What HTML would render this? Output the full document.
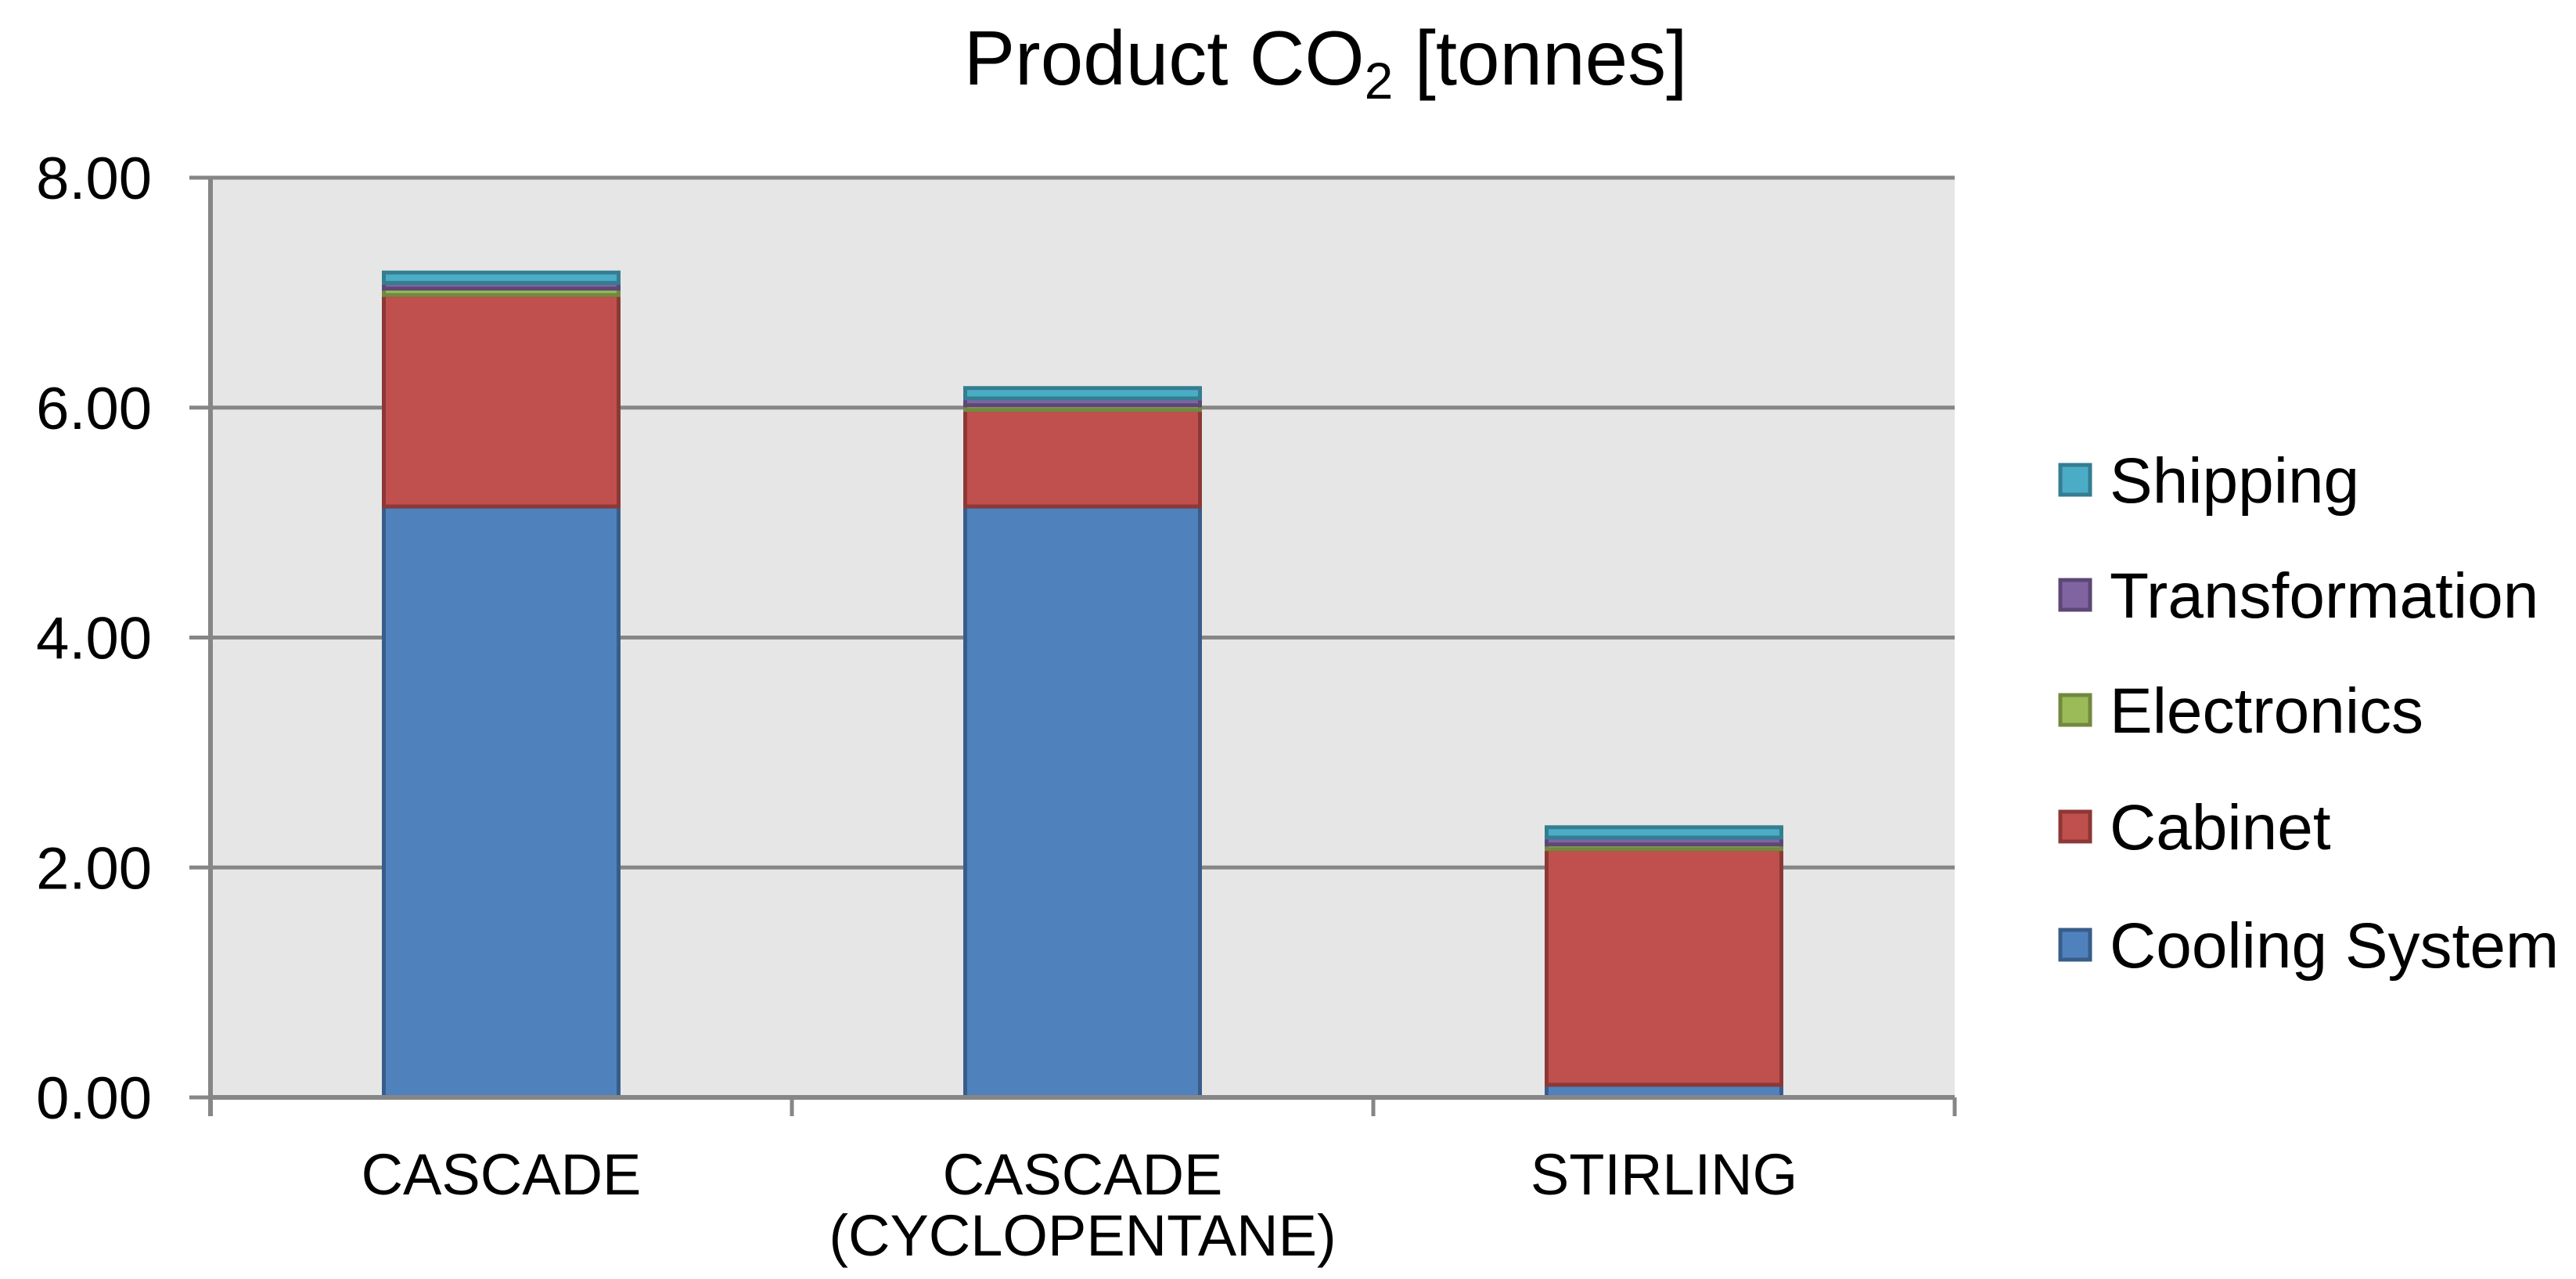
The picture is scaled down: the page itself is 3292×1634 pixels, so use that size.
<!DOCTYPE html>
<html><head><meta charset="utf-8"><style>
html,body{margin:0;padding:0;background:#fff;width:3292px;height:1634px;overflow:hidden}
svg text{font-family:"Liberation Sans",Arial,sans-serif;fill:#000}
</style></head><body>
<svg id="chart" width="3292" height="1634" xmlns="http://www.w3.org/2000/svg">
<text x="1694" y="108" font-size="98" text-anchor="middle">Product CO<tspan font-size="66" dy="18">2</tspan><tspan dy="-18"> [tonnes]</tspan></text>
<g id="plot"></g>
<g id="legend"></g>
</svg>
<script>
const categories = [["CASCADE"], ["CASCADE", "(CYCLOPENTANE)"], ["STIRLING"]];
const seriesNames = ["Cooling System", "Cabinet", "Electronics", "Transformation", "Shipping"];
const coolingSystem = [5.14, 5.14, 0.11];
const cabinet = [1.84, 0.84, 2.05];
const electronics = [0.055, 0.04, 0.04];
const transformation = [0.05, 0.06, 0.06];
const shipping = [0.09, 0.09, 0.09];
const yTicks = [0, 2, 4, 6, 8];
const yTickLabels = ["0.00", "2.00", "4.00", "6.00", "8.00"];

const seriesData = [coolingSystem, cabinet, electronics, transformation, shipping];
const fills = ["#4F81BD", "#C0504D", "#9BBB59", "#8064A2", "#4BACC6"];
const strokes = ["#385D8A", "#8C3836", "#71893F", "#5C4776", "#357D91"];
const NS = "http://www.w3.org/2000/svg";
const L = 269, R = 2498, T = 227, B = 1402, yMax = 8;
const y = v => B - v / yMax * (B - T);
const band = (R - L) / categories.length;
const xc = i => L + band * (i + 0.5);
const barW = 300;
const plot = document.getElementById("plot");
function mk(tag, attrs, parent) {
  const e = document.createElementNS(NS, tag);
  for (const k in attrs) e.setAttribute(k, attrs[k]);
  parent.appendChild(e);
  return e;
}
const bg = mk("rect", {x: L, y: T, width: R - L, height: B - T, fill: "#E6E6E6"}, plot);


yTicks.forEach((t, i) => {
  const g = mk("line", {x1: 242, x2: R, y1: y(t), y2: y(t), stroke: "#868686", "stroke-width": 5}, plot);
  
  
  const tx = mk("text", {x: 194, y: y(t) + 27, "font-size": 76, "text-anchor": "end"}, plot);
  tx.textContent = yTickLabels[i];
  
  
});
const ya = mk("line", {x1: L, x2: L, y1: T, y2: B + 24, stroke: "#868686", "stroke-width": 6}, plot);


for (let i = 0; i <= categories.length; i++) {
  const tk = mk("line", {x1: L + band * i, x2: L + band * i, y1: B, y2: B + 24, stroke: "#868686", "stroke-width": 5}, plot);
  
  
}
categories.forEach((c, i) => {
  let base = 0;
  seriesData.forEach((s, k) => {
    const v = s[i];
    const r = mk("rect", {x: xc(i) - barW / 2, y: y(base + v), width: barW, height: y(base) - y(base + v), fill: fills[k], stroke: strokes[k], "stroke-width": 5}, plot);
    
    
    base += v;
  });
  c.forEach((line, j) => {
    const t = mk("text", {x: xc(i), y: 1526 + j * 78, "font-size": 74, "text-anchor": "middle"}, plot);
    t.textContent = line;
    
    
  });
});
const xa = mk("line", {x1: L, x2: R, y1: B, y2: B, stroke: "#868686", "stroke-width": 6}, plot);


const leg = document.getElementById("legend");
const legY = [1207, 1056, 907, 760, 613];
seriesNames.forEach((n, k) => {
  const sw = mk("rect", {x: 2633, y: legY[k] - 19, width: 38, height: 38, fill: fills[k], stroke: strokes[k], "stroke-width": 5}, leg);
  
  
  const t = mk("text", {x: 2696, y: legY[k] + 29, "font-size": 82}, leg);
  t.textContent = n;
  
  
});
</script>
</body></html>
